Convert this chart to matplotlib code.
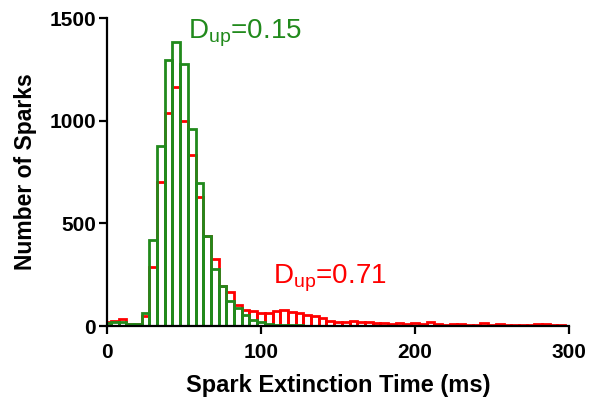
import numpy as np
import matplotlib
matplotlib.use("Agg")
import matplotlib.pyplot as plt

plt.rcParams['font.family'] = ['Liberation Sans', 'DejaVu Sans']
plt.rcParams['mathtext.default'] = 'regular'

# ========== data ==========
# bin centres (ms), 5 ms wide bins
bin_centres = np.arange(0, 305, 5)

# D_up = 0.71 (red)
counts_071 = [22, 25, 34, 8, 10, 48, 286, 700, 1036, 1165,
              998, 834, 628, 438, 328, 195, 167, 102, 78, 75,
              65, 65, 73, 78, 68, 62, 54, 47, 37, 24,
              20, 18, 24, 20, 18, 15, 13, 11, 13, 11,
              15, 11, 18, 10, 7, 8, 12, 6, 7, 15,
              6, 10, 5, 4, 5, 4, 8, 8, 4, 3,
              2]

# D_up = 0.15 (green)
counts_015 = [15, 20, 18, 10, 10, 65, 417, 875, 1295, 1385,
              1276, 958, 695, 439, 277, 195, 123, 88, 54, 29,
              21, 10, 5, 4, 3, 3, 2, 2, 1, 1,
              1, 1, 1, 1, 1, 1, 1, 1, 1, 1,
              1, 1, 1, 1, 1, 1, 1, 1, 1, 1,
              1, 1, 1, 1, 1, 1, 1, 1, 1, 1,
              1]
# ==========================

red = "#ff0000"
green = "#218a1c"

fig = plt.figure(figsize=(5.89, 4.03), dpi=100)
ax = fig.add_axes([0.1817, 0.191, 0.966 - 0.1817, 0.955 - 0.191])

ax.bar(bin_centres, counts_071, width=5, fill=False, edgecolor=red, linewidth=2.0)
ax.bar(bin_centres, counts_015, width=5, fill=False, edgecolor=green, linewidth=2.0)

ax.set_xlim(0, 300)
ax.set_ylim(0, 1500)
ax.set_xticks([0, 100, 200, 300])
ax.set_yticks([0, 500, 1000, 1500])

for s in ['top', 'right']:
    ax.spines[s].set_visible(False)
for s in ['left', 'bottom']:
    ax.spines[s].set_linewidth(1.6)

ax.tick_params(direction='out', length=6, width=1.6, labelsize=15)
ax.tick_params(axis='x', pad=6)
ax.tick_params(axis='y', pad=2)
for lbl in ax.get_xticklabels() + ax.get_yticklabels():
    lbl.set_fontweight('bold')

ax.set_xlabel("Spark Extinction Time (ms)", fontsize=17, fontweight='bold', labelpad=9)
ax.set_ylabel("Number of Sparks", fontsize=16.5, fontweight='bold', labelpad=9)

ax.text(52.5, 1401, r"D$_{up}$=0.15", color=green, fontsize=20)
ax.text(108, 209, r"D$_{up}$=0.71", color=red, fontsize=20)

fig.savefig("out.png", dpi=100)
